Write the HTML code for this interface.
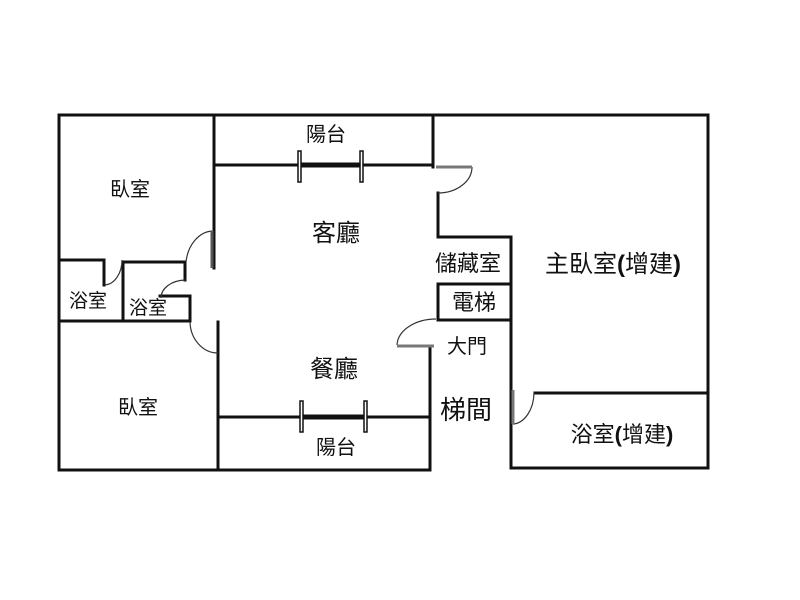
<!DOCTYPE html>
<html><head><meta charset="utf-8"><style>
html,body{margin:0;padding:0;background:#fff;width:800px;height:600px;overflow:hidden}
text{font-family:"Liberation Sans","Noto Sans CJK TC",sans-serif;fill:#111}
</style></head><body>
<svg width="800" height="600" viewBox="0 0 800 600" xmlns="http://www.w3.org/2000/svg">
<g stroke="#111" stroke-width="3" fill="none" stroke-linecap="square">
<polyline points="59,470 59,115 708,115 708,468 511,468 511,237 438,237 438,193"/>
<line x1="433" y1="115" x2="433" y2="167"/>
<polyline points="430,347 430,470 59,470"/>
<line x1="214" y1="115" x2="214" y2="268"/>
<line x1="218" y1="322" x2="218" y2="470"/>
<line x1="214" y1="165" x2="433" y2="165"/>
<line x1="218" y1="417" x2="430" y2="417"/>
<polyline points="438,320 438,284 511,284"/>
<line x1="438" y1="320" x2="511" y2="320"/>
<line x1="535" y1="393" x2="706" y2="393"/>
<polyline points="59,260 104,260 104,285"/>
<polyline points="123,321 123,262 185,262 185,280"/>
<polyline points="160,296 190,296 190,321"/>
<line x1="59" y1="321" x2="190" y2="321"/>
</g>
<g stroke="#111">
<line x1="300" y1="165" x2="361" y2="165" stroke-width="5"/>
<line x1="302" y1="417" x2="366" y2="417" stroke-width="5"/>
<rect x="298" y="151" width="3" height="31" fill="#fff" stroke-width="1.5"/>
<rect x="360" y="151" width="3" height="31" fill="#fff" stroke-width="1.5"/>
<rect x="300" y="401" width="3" height="31" fill="#fff" stroke-width="1.5"/>
<rect x="364" y="401" width="3" height="31" fill="#fff" stroke-width="1.5"/>
</g>
<g stroke="#333" stroke-width="1.2" fill="none">
<path d="M212,231 A28,36 0 0 0 186,262"/>
<line x1="212" y1="231" x2="212" y2="268" stroke-width="3" stroke="#555"/>
<path d="M190,322 A28,32 0 0 0 218,353"/>
<path d="M122,260 A18,25 0 0 1 105,285"/>
<path d="M185,280 A25,18 0 0 0 161,298"/>
<path d="M472,167 A34,26 0 0 1 438,193"/>
<line x1="436" y1="167" x2="472" y2="167" stroke-width="3" stroke="#777"/>
<path d="M436,319 A39,27 0 0 0 397,345"/>
<line x1="397" y1="346" x2="434" y2="346" stroke-width="3" stroke="#777"/>
<path d="M534,393 A22,32 0 0 1 513,424"/>
<line x1="513" y1="390" x2="513" y2="424" stroke-width="3" stroke="#777"/>
</g>
<g font-size="20" text-anchor="middle">
<text x="326" y="141">陽台</text>
<text x="130" y="196">臥室</text>
<text x="336" y="241" font-size="24">客廳</text>
<text x="468" y="271" font-size="22">儲藏室</text>
<text x="613" y="272" font-size="24">主臥室<tspan font-weight="bold">(</tspan>增建<tspan font-weight="bold">)</tspan></text>
<text x="474" y="310" font-size="22">電梯</text>
<text x="467" y="353">大門</text>
<text x="466" y="419" font-size="26">梯間</text>
<text x="334" y="377" font-size="24">餐廳</text>
<text x="138" y="414">臥室</text>
<text x="336" y="454">陽台</text>
<text x="88" y="307" font-size="19">浴室</text>
<text x="148" y="314" font-size="19">浴室</text>
<text x="622" y="442" font-size="22">浴室<tspan font-weight="bold">(</tspan>增建<tspan font-weight="bold">)</tspan></text>
</g>
</svg>
</body></html>
